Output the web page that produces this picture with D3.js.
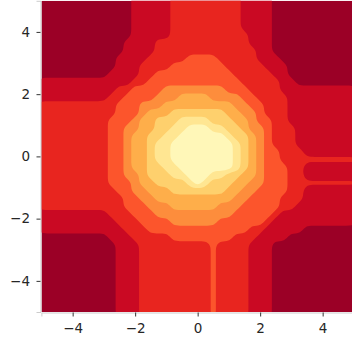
<!DOCTYPE html>
<html><head><meta charset="utf-8">
<script src="https://cdn.jsdelivr.net/npm/d3@7"></script>
<style>html,body{margin:0;padding:0;background:#fff;} svg{display:block;}</style>
</head><body><svg id="chart" width="352" height="345"></svg>
<script>
// ---- data ----
const xTicks = [-4, -2, 0, 2, 4];
const yTicks = [-4, -2, 0, 2, 4];
const levelColors = ["#9b0026","#ca0923","#e8251f","#fc552c","#fd8d3c","#feae4a","#fed06d","#ffe692","#fff7b8"];
const thresholds = [0.5, 1.5, 2.5, 3.5, 4.5, 5.5, 6.5, 7.5];
const gridX = [-5, 5];        // x of first / last grid column
const gridY = [5.15, -5.1];   // y of first / last grid row
// special codes for thin ridges
const codeValues = {a: 1.75, b: 1.65, c: 2.75};
const levelRows = [
"00000000000011111222222222111100000000000",
"00000000000011111222222222111100000000000",
"00000000000011111222222222111100000000000",
"00000000000011111222222222111100000000000",
"00000000000011111222222222111100000000000",
"00000000000011111222222222211100000000000",
"00000000000111122222222222211100000000000",
"00000000000111122222222222221100000000000",
"00000000001111222223333222221110000000000",
"00000000001112222333333322222111000000000",
"00000000011112233333333332222211000000000",
"11111111111122333333333333222221100000000",
"11111111112233334444444433322221111111111",
"11111111122333344455554444332222111111111",
"22222222223334445555555554433222111111111",
"22222222223334555666666655443222111111111",
"22222222233345566677776665543322111111111",
"22222222233445566778887766544322211111111",
"22222222233455667788888876654322211111111",
"22222222233455677888888887654322211111111",
"22222222233455677888888887654332221111111",
"2222222223345567788888888765433222aaaaaaa",
"22222222233455667788888887654333221111111",
"22222222233445666778887766554333221111111",
"2222222223334556666787666554433322bbbbbbb",
"22222222223344555666666655443333221111111",
"22222222222334455555555554433332221111111",
"22222222222333444555555444333332211111111",
"11111111122233344444444443333321111111111",
"11111111112223333444444333333211111111111",
"11111111111222333333333333322111110000000",
"00000000011122222333333332221111000000000",
"0000000000111222222222c222211100000000000",
"0000000000111222222222c222211100000000000",
"0000000000111222222222c222211100000000000",
"0000000000111222222222c222211100000000000",
"0000000000111222222222c222211100000000000",
"0000000000111222222222c222211100000000000",
"0000000000111222222222c222211100000000000",
"0000000000111222222222c222211100000000000",
"0000000000111222222222c222211100000000000",
"0000000000111222222222c222211100000000000"
];

// ---- build ----
const nx = levelRows[0].length, ny = levelRows.length;
const values = [];
levelRows.forEach(r => {
  for (let i = 0; i < nx; i++) {
    const ch = r[i] || r[r.length - 1];
    values.push(ch in codeValues ? codeValues[ch] : +ch);
  }
});

const svg = d3.select("#chart");
const x = d3.scaleLinear().domain([-5, 5]).range([41.4, 353.9]);
const y = d3.scaleLinear().domain([-5, 5]).range([312, 0.8]);
const ix = d3.scaleLinear().domain([0.5, nx - 0.5]).range(gridX);
const iy = d3.scaleLinear().domain([0.5, ny - 0.5]).range(gridY);

svg.append("defs").append("clipPath").attr("id", "clip")
  .append("rect").attr("x", x(-5)).attr("y", y(5))
  .attr("width", x(5) - x(-5)).attr("height", y(-5) - y(5));

const plot = svg.append("g").attr("clip-path", "url(#clip)");
plot.append("rect").attr("x", x(-5)).attr("y", y(5))
  .attr("width", x(5) - x(-5)).attr("height", y(-5) - y(5))
  .attr("fill", levelColors[0]);

const contours = d3.contours().size([nx, ny]).thresholds(thresholds)(values);
const toPix = p => [x(ix(p[0])), y(iy(p[1]))];
const smooth = d3.line().curve(d3.curveBasisClosed);
function bandPath(geom) {
  let d = "";
  geom.coordinates.forEach(poly => poly.forEach(ring => {
    const pts = ring.slice(0, -1).map(toPix);
    if (pts.length > 2) d += smooth(pts);
  }));
  return d;
}
plot.selectAll("path.band").data(contours).join("path")
  .attr("class", "band")
  .attr("d", bandPath)
  .attr("fill-rule", "evenodd")
  .attr("fill", (d, i) => levelColors[i + 1]);

// ---- axes ----
const font = "DejaVu Sans, sans-serif";
const gx = svg.append("g").attr("transform", `translate(0,${y(-5) + 0.5})`)
  .call(d3.axisBottom(x).tickValues(xTicks).tickSizeOuter(0).tickSize(4).tickPadding(6.5));
const gy = svg.append("g").attr("transform", `translate(${x(-5) - 0.9},0)`)
  .call(d3.axisLeft(y).tickValues(yTicks).tickSizeOuter(0).tickSize(4).tickPadding(6.5));
[gx, gy].forEach(g => {
  g.select(".domain").attr("stroke", "#cccccc").attr("stroke-width", 1);
  g.selectAll(".tick line").attr("stroke", "#333333").attr("stroke-width", 1);
  g.selectAll(".tick text").attr("fill", "#262626")
    .style("font-family", font).style("font-size", "13.5px");
});
</script>
</body></html>
